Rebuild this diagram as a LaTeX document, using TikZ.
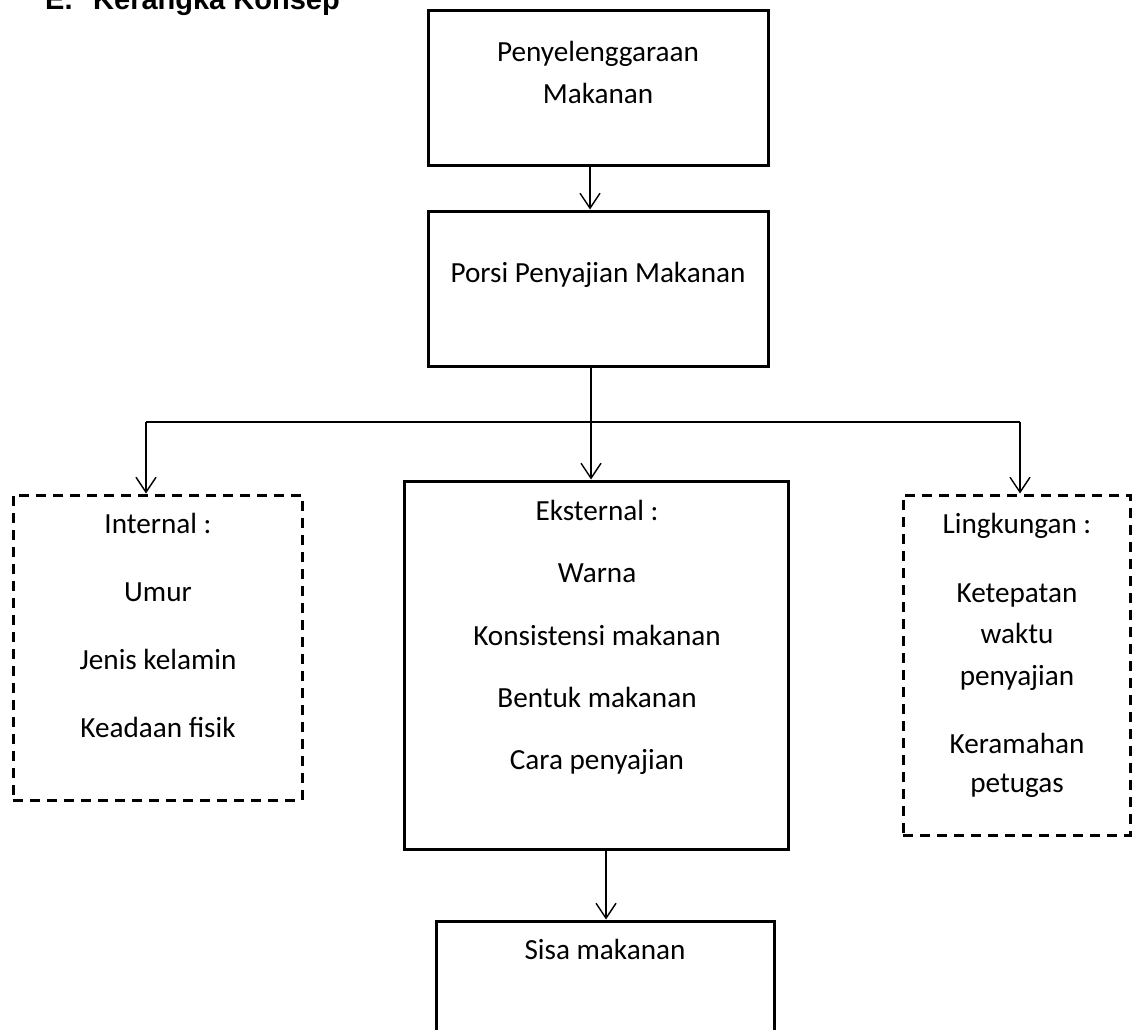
\documentclass[tikz,border=0pt]{standalone}
\usepackage{fontspec}
\setmainfont{Carlito}
\newfontfamily\titlefont{Liberation Sans}
\usetikzlibrary{arrows.meta}
\begin{document}
\begin{tikzpicture}[x=1pt,y=-1pt,
  box/.style={draw, line width=3pt, inner sep=0pt, rectangle},
  dbox/.style={draw, line width=3pt, dash pattern=on 10pt off 7pt, inner sep=0pt, rectangle},
  txt/.style={anchor=base, inner sep=0pt, font=\fontsize{29.2}{35}\selectfont},
  ttl/.style={anchor=base west, inner sep=0pt, font=\titlefont\bfseries\fontsize{29}{35}\selectfont},
  arr/.style={line width=1.4pt, -{Straight Barb[length=15pt,width=20pt,line width=1.4pt]}},
  ln/.style={line width=1.4pt}]
\useasboundingbox (0,0) rectangle (1138,1030);
\clip (0,0) rectangle (1138,1030);
% title
\node[ttl] (tE) at (45,10) {E.};
\node[ttl] (tK) at (93,10) {Kerangka Konsep};
% boxes
\node[box, minimum width=340pt, minimum height=155pt] (b1) at (598,88) {};
\node[box, minimum width=340pt, minimum height=155pt] (b2) at (598,288.5) {};
\node[dbox, minimum width=289pt, minimum height=305pt] (L) at (157.5,647.5) {};
\node[box, minimum width=384pt, minimum height=368pt] (C) at (596,665) {};
\node[dbox, minimum width=227pt, minimum height=340pt] (R) at (1016.5,665) {};
\node[box, minimum width=338pt, minimum height=158pt] (S) at (605,1000) {};
% texts
\node[txt] (t1a) at (598,62) {Penyelenggaraan};
\node[txt] (t1b) at (598,104) {Makanan};
\node[txt] (t2) at (598,282) {Porsi Penyajian Makanan};
\node[txt] (l1) at (158,533) {Internal :};
\node[txt] (l2) at (158,601) {Umur};
\node[txt] (l3) at (158,669) {Jenis kelamin};
\node[txt] (l4) at (158,737) {Keadaan fisik};
\node[txt] (c1) at (597,520) {Eksternal :};
\node[txt] (c2) at (597,582) {Warna};
\node[txt] (c3) at (597,645) {Konsistensi makanan};
\node[txt] (c4) at (597,707) {Bentuk makanan};
\node[txt] (c5) at (597,769) {Cara penyajian};
\node[txt] (r1) at (1017,533) {Lingkungan :};
\node[txt] (r2) at (1017,602) {Ketepatan};
\node[txt] (r3) at (1017,643) {waktu};
\node[txt] (r4) at (1017,685) {penyajian};
\node[txt] (r5) at (1017,753) {Keramahan};
\node[txt] (r6) at (1017,792) {petugas};
\node[txt] (s1) at (605,959) {Sisa makanan};
% connectors
\coordinate (xa) at (590,0);
\coordinate (xb) at (606,0);
\coordinate (j) at (591,422);
\coordinate (jl) at (146,422);
\coordinate (jr) at (1020,422);
\draw[arr] (xa |- b1.south) -- (xa |- b2.north);
\draw[ln] (j |- b2.south) -- (j);
\draw[ln] (jl) -- (jr);
\draw[arr] (jl) -- (jl |- L.north);
\draw[arr] (j) -- (j |- C.north);
\draw[arr] (jr) -- (jr |- R.north);
\draw[arr] (xb |- C.south) -- (xb |- S.north);
\end{tikzpicture}
\end{document}
